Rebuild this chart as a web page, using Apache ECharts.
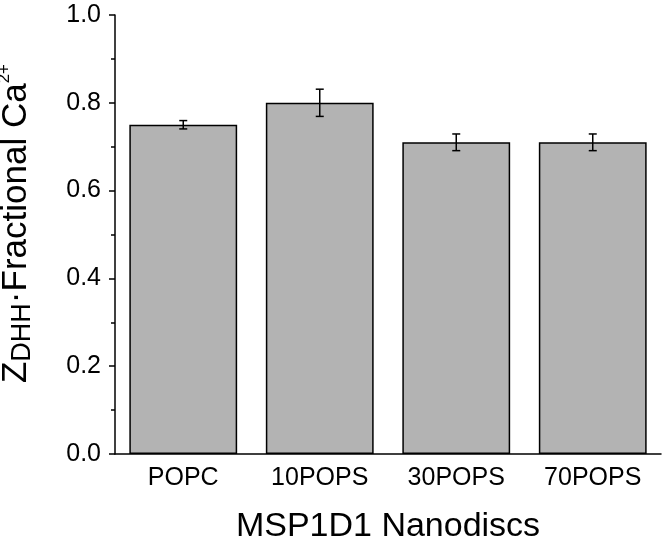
<!DOCTYPE html>
<html>
<head>
<meta charset="utf-8">
<script src="https://cdn.jsdelivr.net/npm/echarts@6/dist/echarts.min.js"></script>
<style>
  html, body { margin: 0; padding: 0; background: #fff; }
  #chart { width: 664px; height: 543px; }
</style>
</head>
<body>
<div id="chart"></div>
<script>
  var categories = ['POPC', '10POPS', '30POPS', '70POPS'];
  var values = [0.75, 0.80, 0.71, 0.71];
  var errors = [0.0095, 0.031, 0.019, 0.019];

  var font = 'Liberation Sans, Arial, Helvetica, sans-serif';

  // error bars: low / high per category
  var errorData = categories.map(function (c, i) {
    return [i, values[i] - errors[i], values[i] + errors[i]];
  });

  function renderError(params, api) {
    var x = api.value(0);
    var top = api.coord([x, api.value(2)]);
    var bot = api.coord([x, api.value(1)]);
    var hw = 4;
    var style = { stroke: '#000', lineWidth: 1.5 };
    return {
      type: 'group',
      children: [
        { type: 'line', shape: { x1: top[0], y1: top[1], x2: bot[0], y2: bot[1] }, style: style },
        { type: 'line', shape: { x1: top[0] - hw, y1: top[1], x2: top[0] + hw, y2: top[1] }, style: style },
        { type: 'line', shape: { x1: bot[0] - hw, y1: bot[1], x2: bot[0] + hw, y2: bot[1] }, style: style }
      ]
    };
  }

  var chart = echarts.init(document.getElementById('chart'));
  var option = {
    animation: false,
    backgroundColor: '#fff',
    grid: { left: 115, right: 3, top: 15, bottom: 89, containLabel: false, outerBoundsMode: 'none' },
    xAxis: [
      {
        type: 'category',
        data: categories,
        position: 'bottom',
        name: 'MSP1D1 Nanodiscs',
        nameLocation: 'middle',
        nameGap: 56,
        nameTextStyle: { fontSize: 34, color: '#000', fontFamily: font },
        axisLine: { lineStyle: { color: '#000', width: 1.5 } },
        axisTick: { alignWithLabel: true, length: 8, lineStyle: { color: '#000', width: 1.5 } },
        axisLabel: { fontSize: 25, color: '#000', fontFamily: font, margin: 12 },
        splitLine: { show: false }
      },
      {
        // boundary ticks between categories
        type: 'category',
        data: categories,
        position: 'bottom',
        axisLine: { show: false },
        axisTick: { length: 4, lineStyle: { color: '#000', width: 1.5 } },
        axisLabel: { show: false },
        splitLine: { show: false }
      }
    ],
    yAxis: {
      type: 'value',
      min: 0,
      max: 1,
      interval: 0.2,
      name: '{z|Z}{s|DHH}{n|·Fractional Ca}{p|2+}',
      nameLocation: 'middle',
      nameRotate: 90,
      nameGap: 79,
      nameTextStyle: {
        color: '#000',
        fontFamily: font,
        fontSize: 35,
        padding: [0, 0, 0, 22],
        rich: {
          z: { fontSize: 35, lineHeight: 40, fontFamily: font, color: '#000' },
          s: { fontSize: 27, lineHeight: 38, verticalAlign: 'bottom', fontFamily: font, color: '#000' },
          n: { fontSize: 35, lineHeight: 40, fontFamily: font, color: '#000' },
          p: { fontSize: 17, lineHeight: 26, verticalAlign: 'top', fontFamily: font, color: '#000' }
        }
      },
      axisLine: { show: true, lineStyle: { color: '#000', width: 1.5 } },
      axisTick: { show: true, length: 6, lineStyle: { color: '#000', width: 1.5 } },
      minorTick: { show: true, splitNumber: 2, length: 4, lineStyle: { color: '#000', width: 1.5 } },
      axisLabel: {
        fontSize: 25, color: '#000', fontFamily: font, margin: 14,
        formatter: function (v) { return v.toFixed(1); }
      },
      splitLine: { show: false }
    },
    series: [
      {
        type: 'bar',
        data: values,
        barWidth: '79%',
        itemStyle: { color: '#b3b3b3', borderColor: '#000', borderWidth: 1.5 }
      },
      {
        type: 'custom',
        data: errorData,
        renderItem: renderError,
        z: 10
      }
    ]
  };
  chart.setOption(option);
</script>
</body>
</html>
